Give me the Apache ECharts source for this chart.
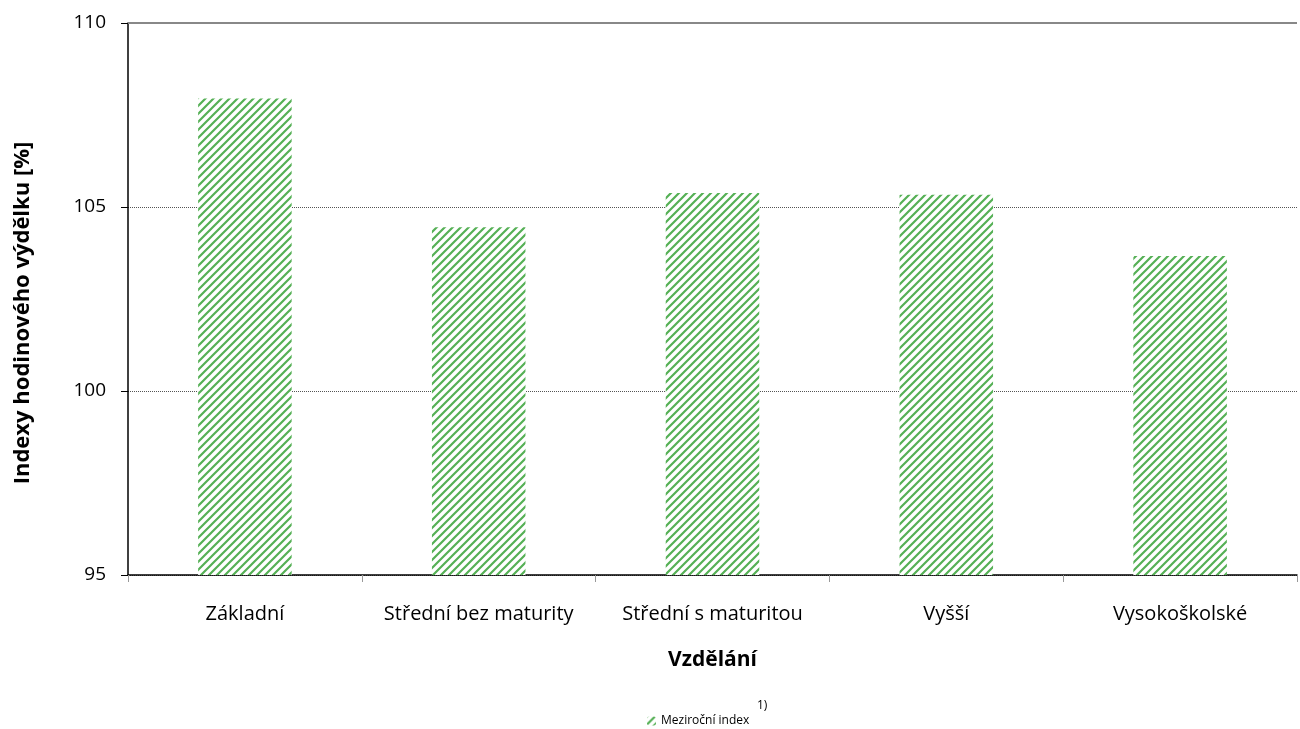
<!DOCTYPE html>
<html><head><meta charset="utf-8">
<script src="https://cdn.jsdelivr.net/npm/echarts@6/dist/echarts.min.js"></script>
<style>html,body{margin:0;padding:0;background:#fff}#c{width:1300px;height:729px}</style>
</head><body><div id="c"></div>
<script>
const categories = ['Základní', 'Střední bez maturity', 'Střední s maturitou', 'Vyšší', 'Vysokoškolské'];
const values = [107.95, 104.45, 105.38, 105.33, 103.67];
const seriesName = 'Meziroční index';
const yTicks = [95, 100, 105, 110];
const yTitle = 'Indexy hodinového výdělku [%]';
const xTitle = 'Vzdělání';

function makePattern(){
  const c = document.createElement('canvas');
  c.width = 8; c.height = 8;
  const g = c.getContext('2d');
  g.fillStyle = '#ffffff'; g.fillRect(0,0,8,8);
  g.strokeStyle = '#55b055'; g.lineWidth = 2.2; g.lineCap = 'butt';
  g.beginPath();
  g.moveTo(-2,10); g.lineTo(10,-2);
  g.moveTo(-6,6); g.lineTo(6,-6);
  g.moveTo(2,14); g.lineTo(14,2);
  g.stroke();
  return c;
}
const pat = {image: makePattern(), repeat: 'repeat'};
const font = 'Open Sans';
const chart = echarts.init(document.getElementById('c'), null, {renderer:'canvas'});
chart.setOption({
  animation:false,
  textStyle:{fontFamily:font},
  grid:{left:128, right:3, top:23, bottom:154},
  legend:{
    data:[seriesName], top:710, left:642,
    itemWidth:9, itemHeight:9, itemGap:4,
    textStyle:{fontFamily:font, fontSize:12, color:'#000'}
  },
  graphic:[
    {type:'text', left:757, top:700, style:{text:'1)', fontFamily:font, fontSize:12, fill:'#000'}},
    {type:'text', x:23, y:313, rotation:Math.PI/2,
      style:{text:yTitle, fontFamily:font, fontSize:22, fontWeight:'bold', fill:'#000', align:'center', verticalAlign:'middle'}}
  ],
  xAxis:{
    type:'category', data:categories,
    name:xTitle, nameLocation:'middle', nameGap:75,
    nameTextStyle:{fontFamily:font, fontSize:21, fontWeight:'bold', color:'#000'},
    axisLine:{lineStyle:{color:'#000', width:1.5}},
    axisTick:{show:true, interval:0, length:7, lineStyle:{color:'#999'}},
    axisLabel:{interval:0, fontFamily:font, fontSize:20, color:'#000', margin:29}
  },
  yAxis:{
    type:'value', min:95, max:110, interval:5,
    axisLine:{show:true, lineStyle:{color:'#000', width:1.5}},
    axisTick:{show:true, length:7, lineStyle:{color:'#000'}},
    axisLabel:{fontFamily:font, fontSize:19, color:'#000', margin:22,
      formatter:v=>yTicks.includes(v)?String(v):''},
    splitLine:{show:true, lineStyle:{color:'#555', type:[1,1], width:1}}
  },
  series:[{
    name:seriesName, type:'bar', data:values, barWidth:'40%',
    itemStyle:{color:pat},
    markLine:{silent:true, symbol:'none', label:{show:false},
      lineStyle:{color:'#888', type:'solid', width:2},
      data:[{yAxis:110}]}
  }]
});
</script></body></html>
